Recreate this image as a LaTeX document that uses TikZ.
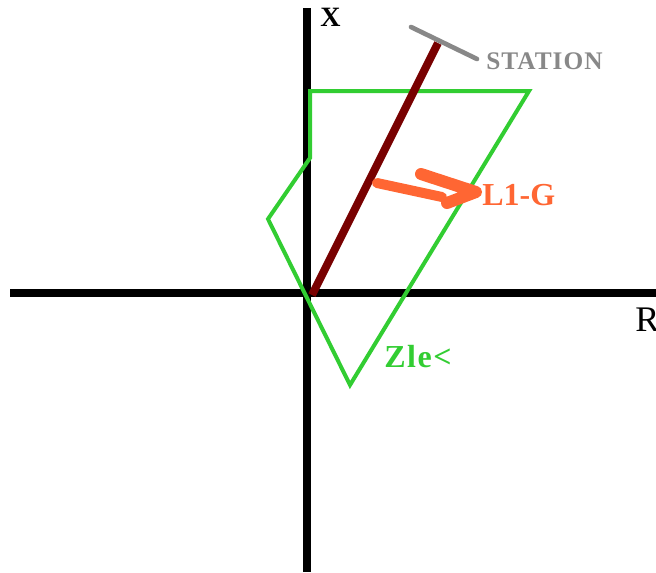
\documentclass[tikz,border=0pt]{standalone}
\usepackage{fontspec}
\setmainfont{Liberation Serif}
\definecolor{axgreen}{RGB}{50,205,50}
\definecolor{dred}{RGB}{120,0,0}
\definecolor{sgray}{RGB}{136,136,136}
\definecolor{orng}{RGB}{255,102,51}
\tikzset{
  axis/.style={line width=6pt, black},
  zone/.style={line width=3pt, axgreen, line join=miter},
  lineimp/.style={line width=6pt, dred},
  station/.style={line width=3.5pt, sgray, line cap=round},
  arr/.style={line width=7.5pt, orng, line cap=round, line join=round},
  lbl/.style={inner sep=0pt, anchor=west, font=\bfseries}
}
\begin{document}
\begin{tikzpicture}[x=0.75pt,y=-0.75pt]
\useasboundingbox (0,0) rectangle (656,572);
% axes
\coordinate (xtop) at (307,8);
\coordinate (xbot) at (307,572);
\coordinate (rleft) at (10,293);
\coordinate (rright) at (660,293);
\draw[axis] (xtop) -- (xbot);
\draw[axis] (rleft) -- (rright);
% zone polygon
\coordinate (z1) at (310,91);
\coordinate (z2) at (529,91);
\coordinate (z3) at (350,385);
\coordinate (z4) at (268,219);
\coordinate (z5) at (310,158);
\draw[zone] (z1) -- (z2) -- (z3) -- (z4) -- (z5) -- cycle;
% line impedance
\coordinate (o) at (312,295);
\coordinate (lt) at (438,43);
\draw[lineimp] (o) -- (lt);
% station
\coordinate (s1) at (411,27);
\coordinate (s2) at (477,59);
\draw[station] (s1) -- (s2);
% orange arrow
\coordinate (a1) at (377,183);
\coordinate (a2) at (442,197);
\coordinate (b1) at (421,174);
\coordinate (tip) at (476,192);
\coordinate (b2) at (447,203);
\draw[arr] (a1) -- (a2);
\draw[arr, line width=9pt] (b1) -- (tip) -- (b2);
% labels
\node[lbl, font=\bfseries\fontsize{21}{21}\selectfont] (xl) at (320,17) {X};
\node[lbl, font=\fontsize{27}{27}\selectfont] (rl) at (635,320) {R};
\node[lbl, text=sgray, font=\bfseries\fontsize{19}{19}\selectfont\addfontfeature{LetterSpace=4}] (st) at (486,61) {STATION};
\node[lbl, text=orng, font=\bfseries\fontsize{24}{24}\selectfont] (lg) at (482,195) {L1-G};
\node[lbl, text=axgreen, font=\bfseries\fontsize{24}{24}\selectfont\addfontfeature{LetterSpace=5}] (zl) at (384,357) {Zle<};
\end{tikzpicture}
\end{document}
